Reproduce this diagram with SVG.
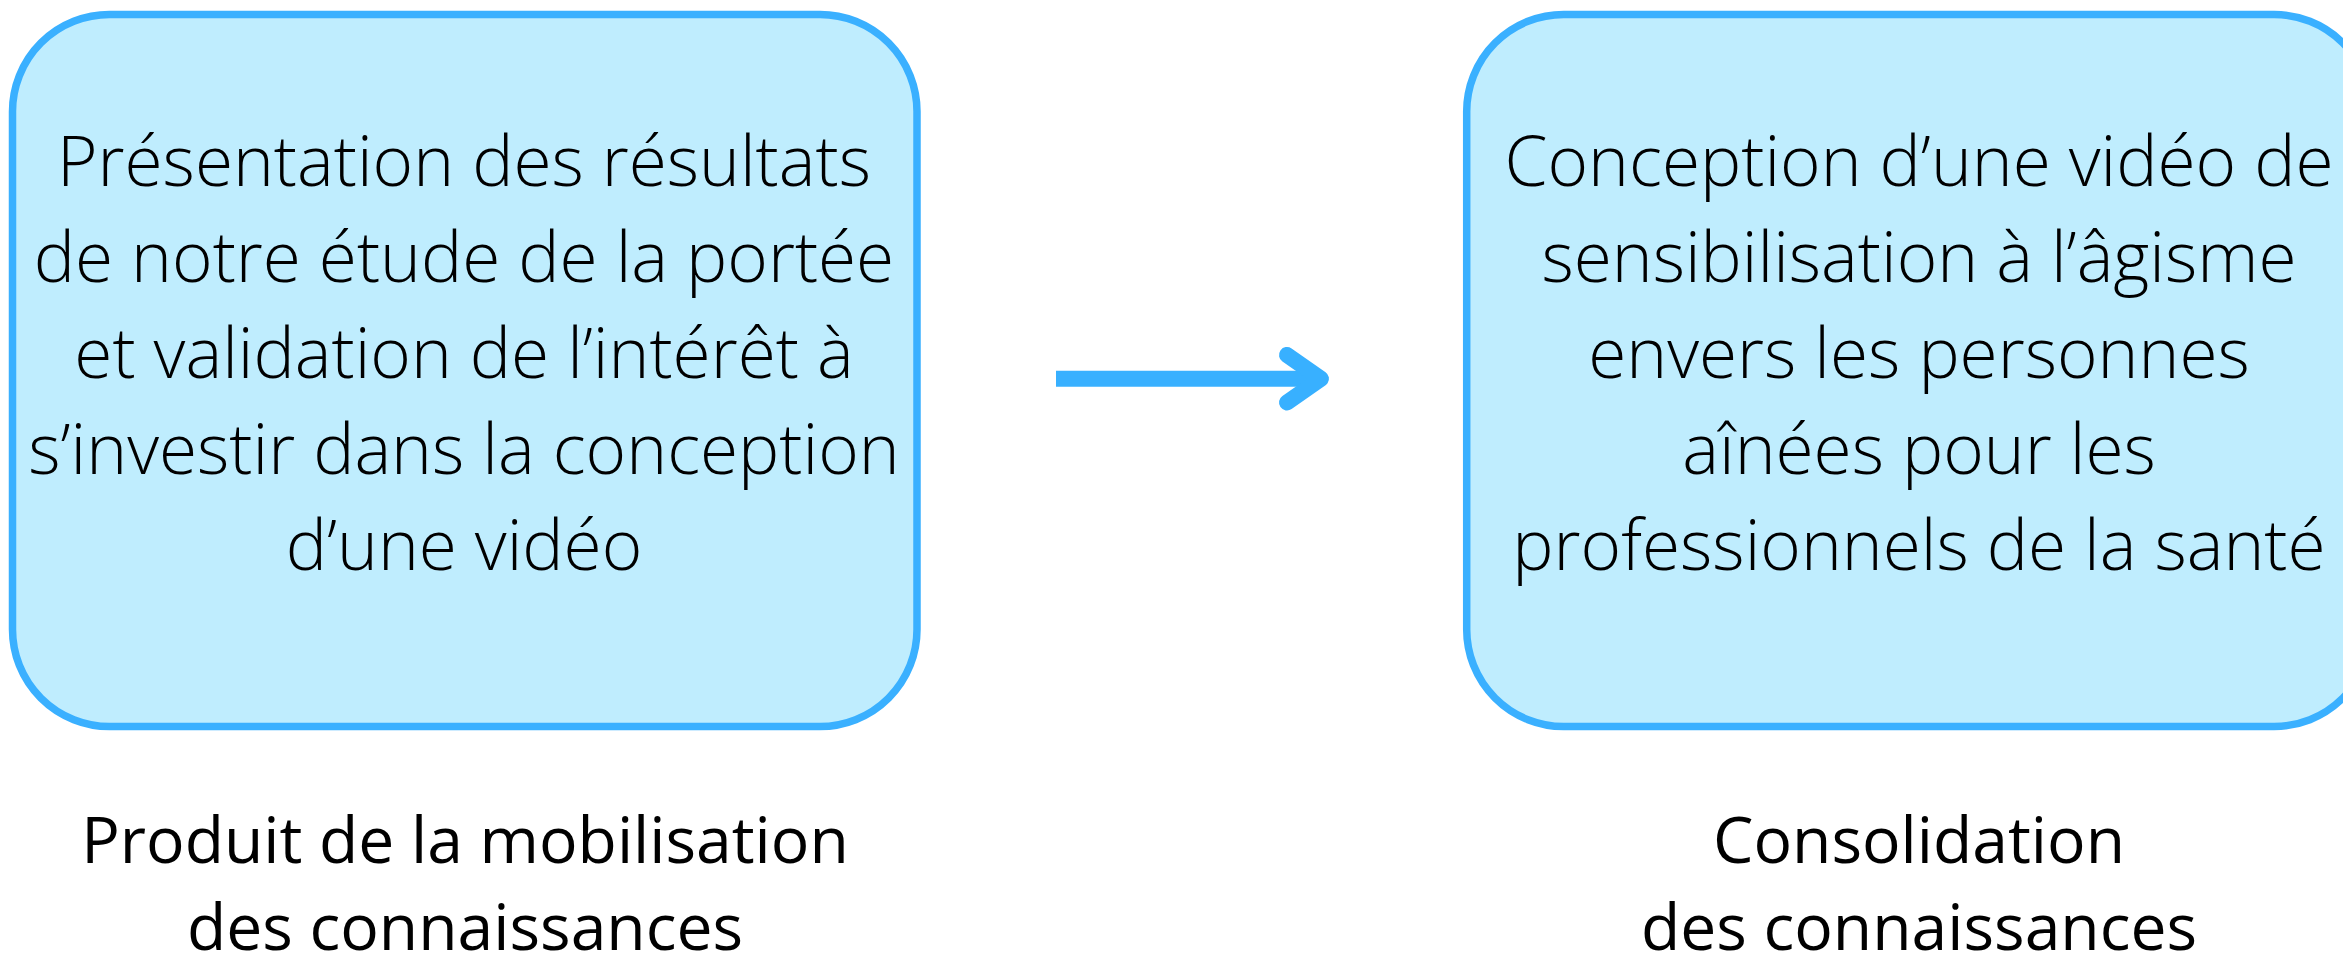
<svg xmlns="http://www.w3.org/2000/svg" width="2343" height="954" viewBox="0 0 2343 954">
<style>
.box{fill:#BFEDFE;stroke:#3AB0FF;stroke-width:7.5}
.t{font-family:"Open Sans","Liberation Sans",sans-serif;font-weight:300;font-size:69.3px;fill:#000;text-anchor:middle}
.l{font-family:"Open Sans","Liberation Sans",sans-serif;font-weight:400;font-size:64.2px;fill:#000;text-anchor:middle}
.c{fill:none;stroke:#38B0FF;stroke-width:16}
</style>
<rect width="2343" height="954" fill="#fff"/>
<g id="node1">
<rect class="box" x="12.5" y="14.5" width="904.5" height="712" rx="97" ry="97"/>
<text class="t" x="464" y="185.5">Présentation des résultats</text>
<text class="t" x="464" y="282">de notre étude de la portée</text>
<text class="t" x="464" y="378">et validation de l’intérêt à</text>
<text class="t" x="464" y="474">s’investir dans la conception</text>
<text class="t" x="464" y="570">d’une vidéo</text>
</g>
<g id="label1">
<text class="l" x="465" y="862.5">Produit de la mobilisation</text>
<text class="l" x="465" y="949.5">des connaissances</text>
</g>
<g id="node2">
<rect class="box" x="1466.7" y="14.5" width="904.5" height="712" rx="97" ry="97"/>
<text class="t" x="1919" y="185.5">Conception d’une vidéo de</text>
<text class="t" x="1919" y="282">sensibilisation à l’âgisme</text>
<text class="t" x="1919" y="378">envers les personnes</text>
<text class="t" x="1919" y="474">aînées pour les</text>
<text class="t" x="1919" y="570">professionnels de la santé</text>
</g>
<g id="label2">
<text class="l" x="1919" y="862.5">Consolidation</text>
<text class="l" x="1919" y="949.5">des connaissances</text>
</g>
<g id="connectors">
<path class="c" d="M1056,378.7 H1316" stroke-linecap="butt"/>
<path class="c" d="M1287,355 L1321,378.7 L1287,402.5" stroke-linecap="round" stroke-linejoin="round"/>
</g>
</svg>
